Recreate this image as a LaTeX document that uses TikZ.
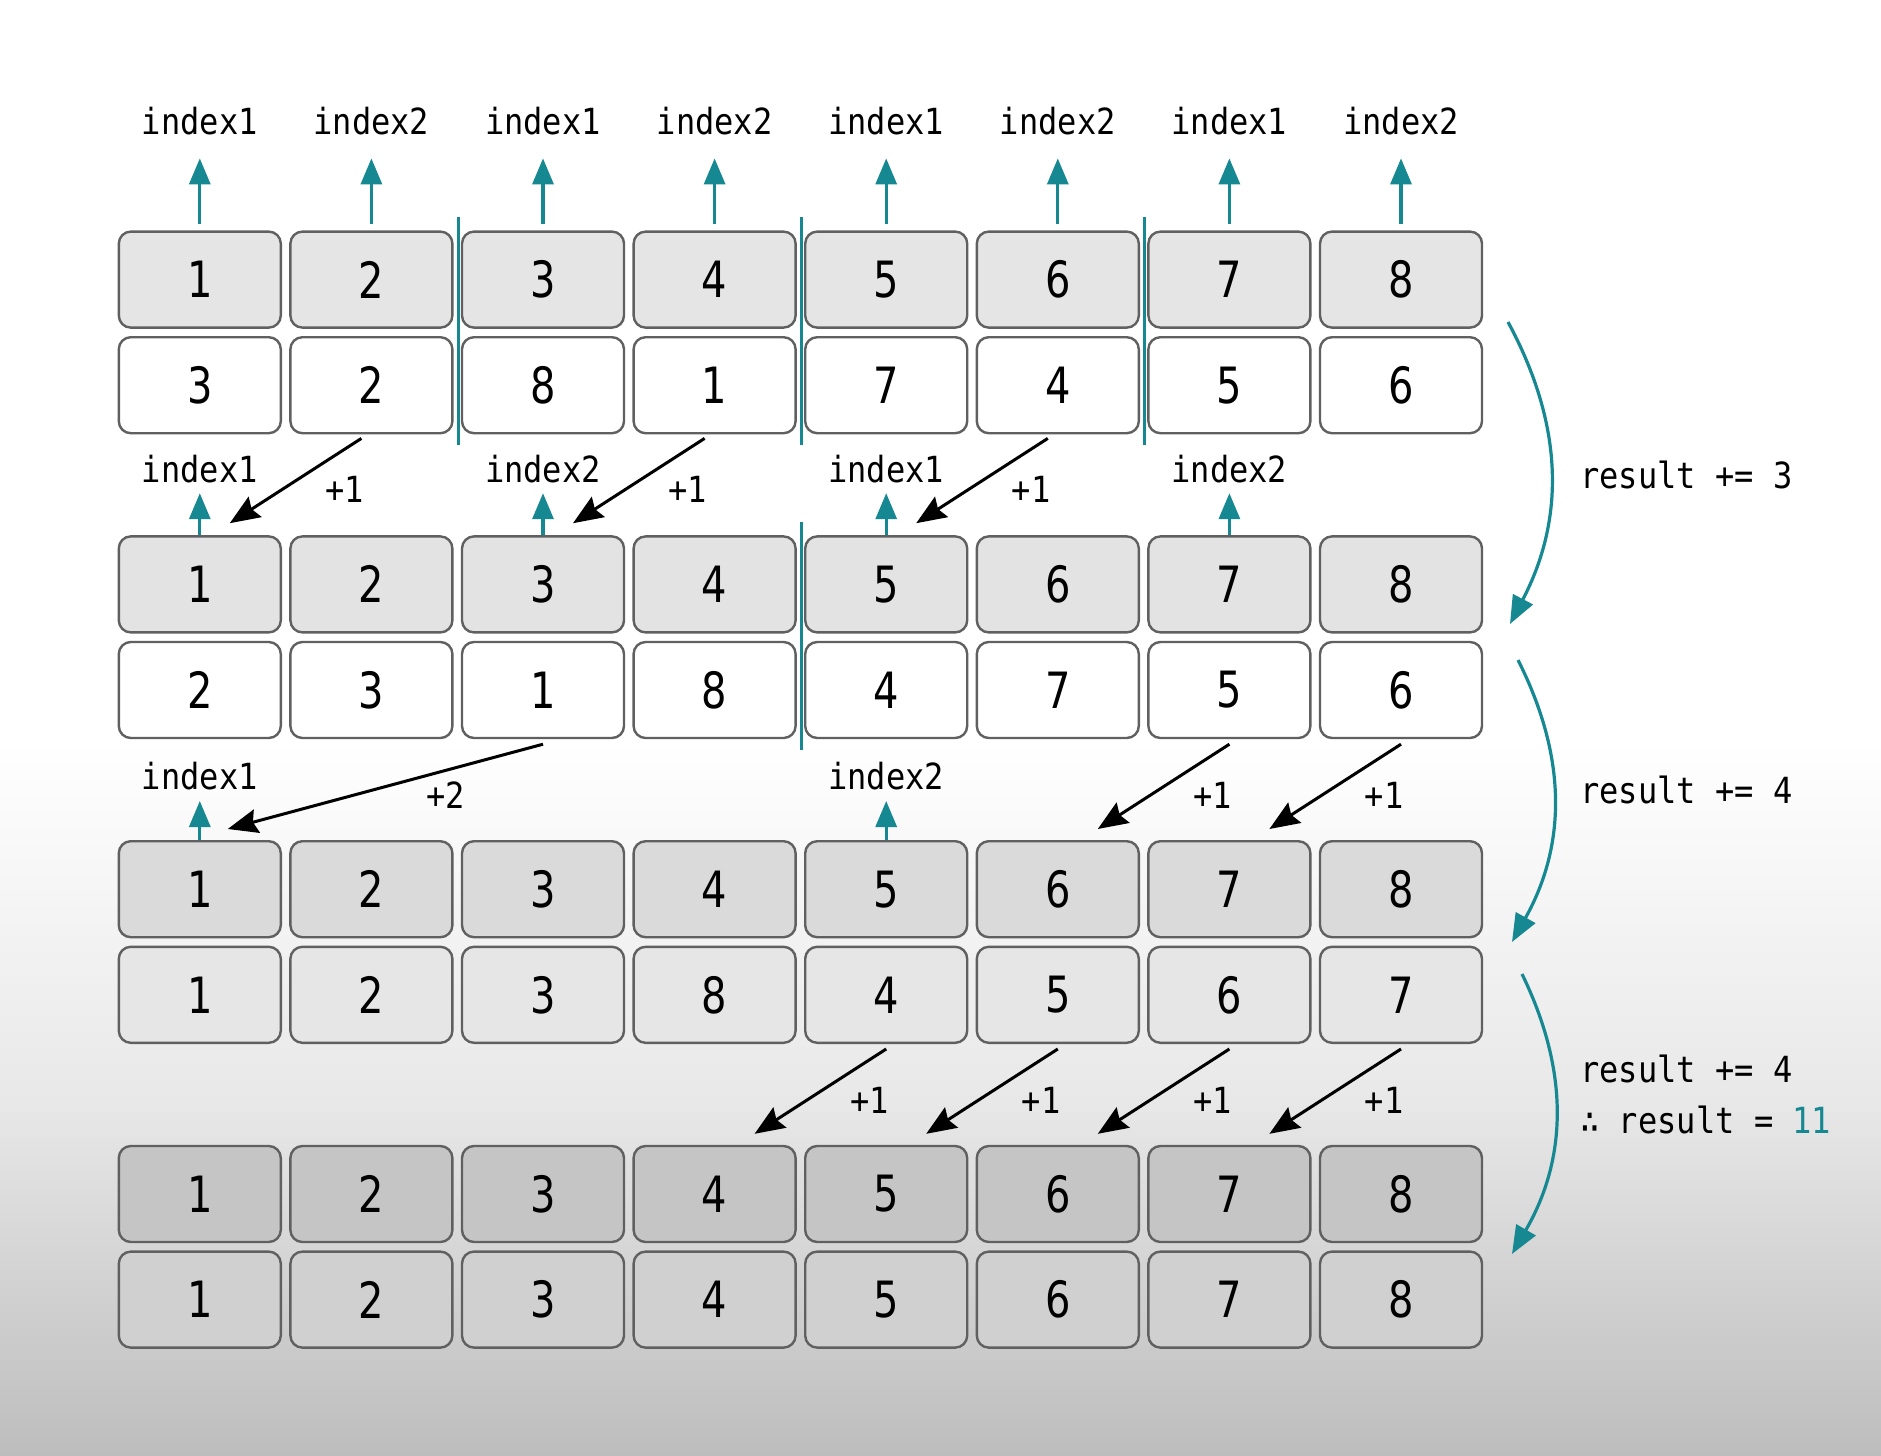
\documentclass[tikz,border=0pt]{standalone}
\usepackage{fontspec}
\setmainfont{DejaVu Sans}
\newfontfamily\numfont{DejaVu Sans}[FakeStretch=0.8]
\newfontfamily\codefont{DejaVu Sans Mono}[FakeStretch=0.89]
\usetikzlibrary{arrows.meta, positioning, calc}
\definecolor{accent}{RGB}{22,136,146}
\definecolor{edgegray}{RGB}{96,96,96}
\definecolor{rowA}{RGB}{229,229,229}
\definecolor{rowB}{RGB}{227,227,227}
\definecolor{rowC}{RGB}{218,218,218}
\definecolor{rowD}{RGB}{230,230,230}
\definecolor{rowE}{RGB}{197,197,197}
\definecolor{rowF}{RGB}{208,208,208}
\definecolor{bgmid}{RGB}{232,232,232}
\definecolor{bgbot}{RGB}{189,189,189}

\begin{document}
\begin{tikzpicture}[x=0.5pt, y=-0.5pt,
  cell/.style={draw=edgegray, line width=1.2pt, rounded corners=6pt,
               minimum width=81pt, minimum height=48pt, inner sep=0pt,
               font=\numfont\fontsize{25}{25}\selectfont},
  code/.style={inner sep=0pt, anchor=base, font=\codefont\fontsize{18}{18}\selectfont},
  idx/.style={draw=accent, line width=1.6pt, -{Triangle[length=13pt, width=10.5pt]}},
  move/.style={line width=1.5pt, -{Stealth[length=15pt, width=12pt, inset=2pt]}},
  movelbl/.style={midway, xshift=24.5pt, yshift=-4.5pt, inner sep=0pt,
                  font=\codefont\fontsize{18}{18}\selectfont},
  part/.style={draw=accent, line width=1.6pt},
  pass/.style={draw=accent, line width=1.6pt, bend left=28,
               -{Triangle[length=14pt, width=11pt]}}
]
% Background
\fill[white] (0,0) rectangle (1881,742);
\shade[top color=white, bottom color=bgmid] (0,740) rectangle (1881,1102);
\shade[top color=bgmid, bottom color=bgbot] (0,1100) rectangle (1881,1456);
\useasboundingbox (0,0) rectangle (1881,1456);

% Cells: key row and value row of every pass
\foreach \p/\vals/\kf/\vf in {1/{3,2,8,1,7,4,5,6}/rowA/white,
                              2/{2,3,1,8,4,7,5,6}/rowB/white,
                              3/{1,2,3,8,4,5,6,7}/rowC/rowD,
                              4/{1,2,3,4,5,6,7,8}/rowE/rowF}
  \foreach \v [count=\i] in \vals {
    \node[cell, fill=\kf] (t\p-\i) at ({199.8+171.6*(\i-1)}, {279.6+304.8*(\p-1)}) {\i};
    \node[cell, fill=\vf] (b\p-\i) at ({199.8+171.6*(\i-1)}, {385.2+304.8*(\p-1)}) {\v};
  }

% Group borders
\foreach \i in {2,4,6}
  \draw[part] ($(t1-\i.north east)+(4.8,-13)$) -- ($(b1-\i.south east)+(4.8,11)$);
\draw[part] ($(t2-4.north east)+(4.8,-13)$) -- ($(b2-4.south east)+(4.8,11)$);

% Pointers, first pass
\foreach \i in {1,...,8} {
  \pgfmathtruncatemacro\k{2-mod(\i,2)}
  \node[code, above=47.3pt of t1-\i.north] (top-\i) {index\k};
  \draw[idx, shorten <=3pt, shorten >=11.3pt] (t1-\i.north) -- (top-\i.south);
}
% Pointers, second and third pass
\foreach \i/\k in {1/1,3/2,5/1,7/2} {
  \node[code, above=26pt of t2-\i.north] (mid-\i) {index\k};
  \draw[idx, shorten >=5pt] (t2-\i.north) -- (mid-\i.south);
}
\foreach \i/\k in {1/1,5/2} {
  \node[code, above=25pt of t3-\i.north] (low-\i) {index\k};
  \draw[idx, shorten >=5.5pt] (t3-\i.north) -- (low-\i.south);
}

% Moves
\foreach \a/\b in {2/1,4/3,6/5}
  \draw[move] ($(b1-\a.south)+(-10,4)$) -- ($(t2-\b.north)+(30,-12)$) node[movelbl] {+1};
\draw[move] ($(b2-3.south)+(0,5)$) -- ($(t3-1.north)+(28,-11)$) node[movelbl, xshift=5.5pt] {+2};
\foreach \a/\b in {7/6,8/7}
  \draw[move] ($(b2-\a.south)+(0,5)$) -- ($(t3-\b.north)+(40,-11)$) node[movelbl] {+1};
\foreach \a/\b in {5/4,6/5,7/6,8/7}
  \draw[move] ($(b3-\a.south)+(0,5)$) -- ($(t4-\b.north)+(40,-11)$) node[movelbl] {+1};

% Passes
\coordinate (r1s) at (1508,322);
\coordinate (r1e) at (1510,624);
\coordinate (r2s) at (1518,660);
\coordinate (r2e) at (1512,942);
\coordinate (r3s) at (1522,974);
\coordinate (r3e) at (1512,1254);
\draw[pass] (r1s) to (r1e);
\draw[pass] (r2s) to (r2e);
\draw[pass] (r3s) to (r3e);
\node[code, anchor=base west] (res1) at (1580,488) {result += 3};
\node[code, anchor=base west] (res2) at (1580,803) {result += 4};
\node[code, anchor=base west] (res3) at (1580,1082) {result += 4};
\node[code, anchor=base west] (res4) at (1580,1133) {∴ result = \textcolor{accent}{11}};
\end{tikzpicture}
\end{document}
